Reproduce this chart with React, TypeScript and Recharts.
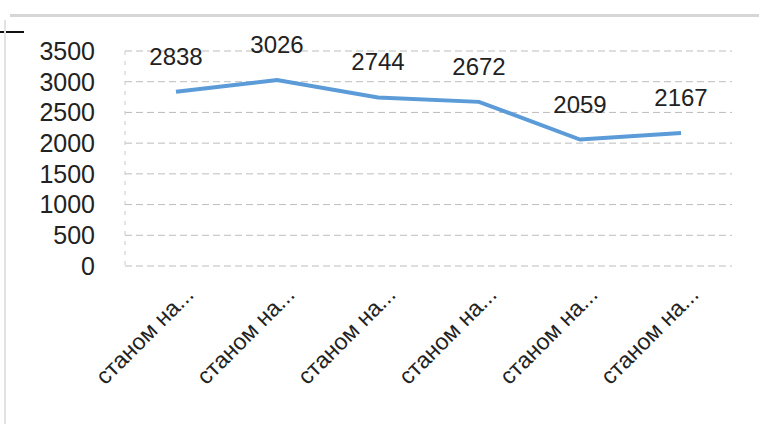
import React from "react";
import { LineChart, Line, XAxis, YAxis, CartesianGrid, LabelList } from "recharts";

const categories = ["станом на 1", "станом на 2", "станом на 3", "станом на 4", "станом на 5", "станом на 6"];
const values = [2838, 3026, 2744, 2672, 2059, 2167];
const yTicks = [0, 500, 1000, 1500, 2000, 2500, 3000, 3500];
const shortLabel = "станом на...";

const data = categories.map((c, i) => ({ name: c, value: values[i] }));

const FONT = "'Liberation Sans', Arial, sans-serif";

const XTick = (props: any) => {
  const { x, y } = props;
  const ax = x + 19;
  const ay = y + 22;
  return (
    <text
      x={ax}
      y={ay}
      transform={`rotate(-45, ${ax}, ${ay})`}
      textAnchor="end"
      fontFamily={FONT}
      fontSize={23}
      fill="#222"
    >
      {shortLabel}
    </text>
  );
};

const ValueLabel = (props: any) => {
  const { x, y, value } = props;
  return (
    <text x={x} y={y - 27} textAnchor="middle" fontFamily={FONT} fontSize={24} fill="#222">
      {value}
    </text>
  );
};

export default function App() {
  return (
    <div style={{ position: "absolute", left: 0, top: 0, width: 759, height: 424, background: "#fff" }}>
      <div style={{ position: "absolute", left: 10, top: 14, width: 749, height: 3, background: "#d6d6d6" }} />
      <div style={{ position: "absolute", left: 0, top: 31, width: 24, height: 2, background: "#111" }} />
      <div style={{ position: "absolute", left: 4, top: 20, width: 2, height: 404, background: "#e2e2e2" }} />
      <LineChart
        width={759}
        height={424}
        data={data}
        margin={{ top: 51, right: 27, left: 0, bottom: 0 }}
      >
        <CartesianGrid vertical={false} stroke="#bdbdbd" strokeDasharray="7 4" />
        <XAxis
          dataKey="name"
          axisLine={false}
          tickLine={false}
          height={158}
          interval={0}
          padding={{ left: 51, right: 51 }}
          tick={<XTick />}
        />
        <YAxis
          width={125}
          domain={[0, 3500]}
          ticks={yTicks}
          interval={0}
          axisLine={{ stroke: "#c8c8c8", strokeDasharray: "4 6" }}
          tickLine={false}
          tickMargin={24}
          tick={{ fontFamily: FONT, fontSize: 25, fill: "#222" }}
        />
        <YAxis
          yAxisId="r"
          orientation="right"
          width={0}
          domain={[0, 3500]}
          ticks={[]}
          axisLine={{ stroke: "#d0d0d0", strokeDasharray: "4 6" }}
          tickLine={false}
          tick={false}
        />
        <Line
          type="linear"
          dataKey="value"
          stroke="#5a9bd8"
          strokeWidth={4}
          dot={false}
          isAnimationActive={false}
        >
          <LabelList dataKey="value" content={<ValueLabel />} />
        </Line>
      </LineChart>
    </div>
  );
}
